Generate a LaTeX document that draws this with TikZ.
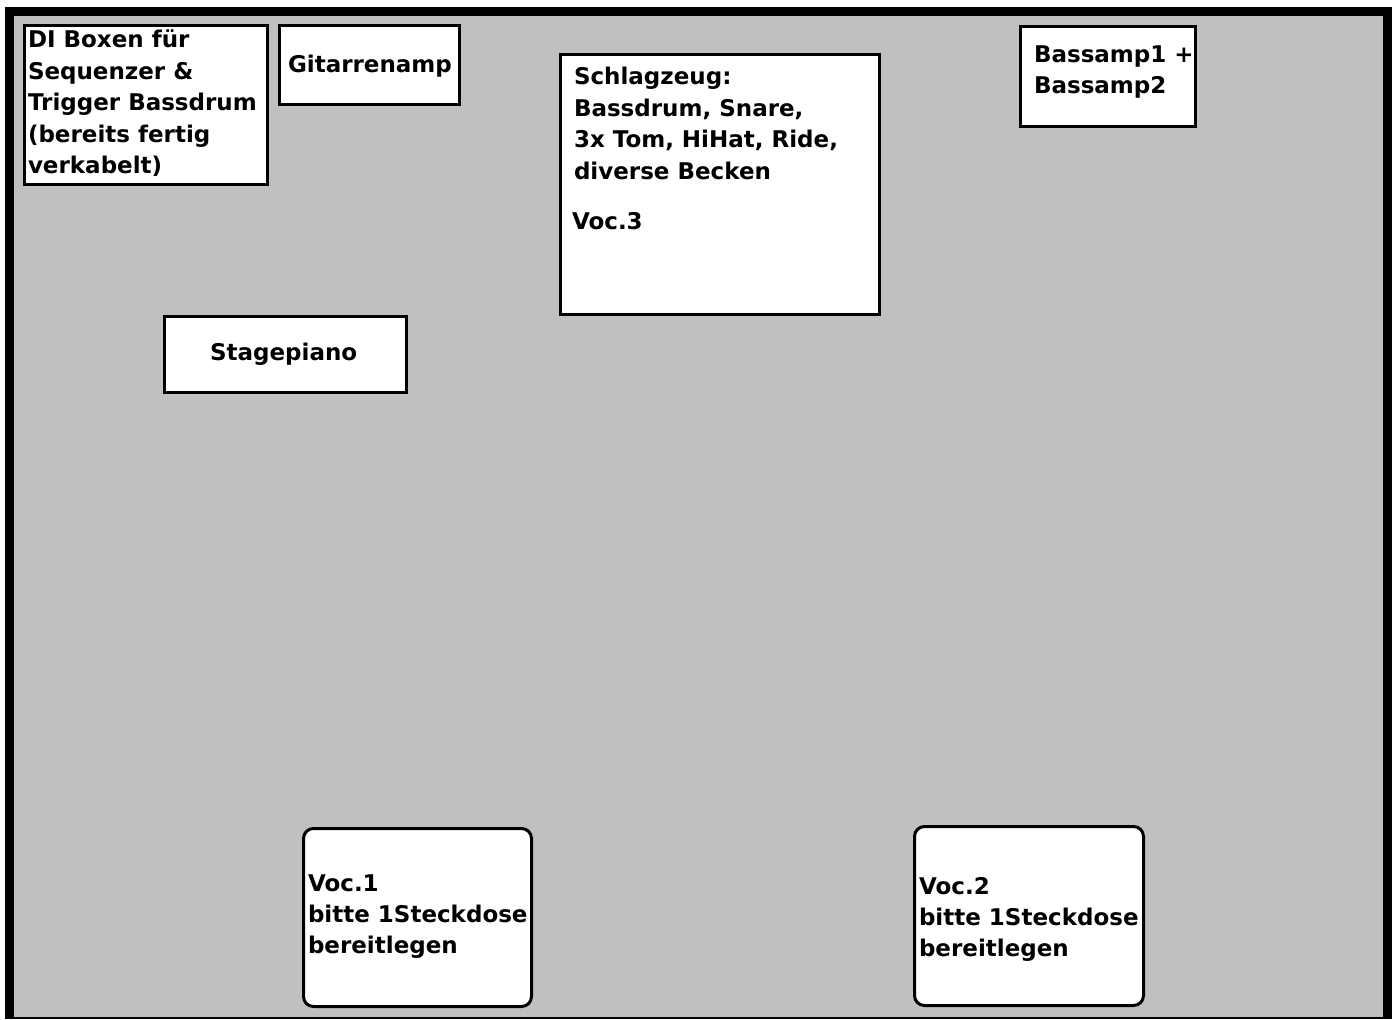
\documentclass[tikz,border=0pt]{standalone}
\usepackage{fontspec}
\setmainfont{DejaVu Sans}
\definecolor{stagegray}{RGB}{192,192,192}
\tikzset{
  stagebox/.style={draw=black, line width=3pt, fill=white, inner sep=0pt, outer sep=0pt, anchor=north west},
  vocbox/.style={stagebox, rounded corners=10pt},
  lbl/.style={font=\bfseries\fontsize{23}{31.5}\selectfont, inner sep=0pt, outer sep=0pt, anchor=base west, text=black}
}
\begin{document}
\begin{tikzpicture}[x=1pt,y=-1pt]
\useasboundingbox (0,0) rectangle (1396,1019);
\fill[white] (0,0) rectangle (1396,1019);
\fill[black] (5,7) rectangle (1392,1019);
\fill[stagegray] (14,16) rectangle (1383,1017);
% boxes
\node[stagebox, minimum width=243pt, minimum height=159pt] (di) at (24.5,25.5) {};
\node[stagebox, minimum width=180pt, minimum height=79pt] (git) at (279.5,25.5) {};
\node[stagebox, minimum width=319pt, minimum height=260pt] (drum) at (560.5,54.5) {};
\node[stagebox, minimum width=175pt, minimum height=100pt] (bass) at (1020.5,26.5) {};
\node[stagebox, minimum width=242pt, minimum height=76pt] (piano) at (164.5,316.5) {};
\node[vocbox, minimum width=228pt, minimum height=178pt] (voca) at (303.5,828.5) {};
\node[vocbox, minimum width=229pt, minimum height=179pt] (vocb) at (914.5,826.5) {};
% texts
\node[lbl] (dia) at (28,48) {DI Boxen für};
\node[lbl] (dib) at (28,79.5) {Sequenzer \&};
\node[lbl] (dic) at (28,111) {Trigger Bassdrum};
\node[lbl] (did) at (28,142.5) {(bereits fertig};
\node[lbl] (die) at (28,174) {verkabelt)};
\node[lbl] (gita) at (288,73) {Gitarrenamp};
\node[lbl] (druma) at (574,85) {Schlagzeug:};
\node[lbl] (drumb) at (574,116.5) {Bassdrum, Snare,};
\node[lbl] (drumc) at (574,148) {3x Tom, HiHat, Ride,};
\node[lbl] (drumd) at (574,179.5) {diverse Becken};
\node[lbl] (drume) at (572,229) {Voc.3};
\node[lbl] (bassa) at (1034,63) {Bassamp1 +};
\node[lbl] (bassb) at (1034,94) {Bassamp2};
\node[lbl] (pianoa) at (210,360) {Stagepiano};
\node[lbl] (vocaa) at (308,891) {Voc.1};
\node[lbl] (vocab) at (308,922) {bitte 1Steckdose};
\node[lbl] (vocac) at (308,953) {bereitlegen};
\node[lbl] (vocba) at (919,894) {Voc.2};
\node[lbl] (vocbb) at (919,925) {bitte 1Steckdose};
\node[lbl] (vocbc) at (919,956) {bereitlegen};
\end{tikzpicture}
\end{document}
